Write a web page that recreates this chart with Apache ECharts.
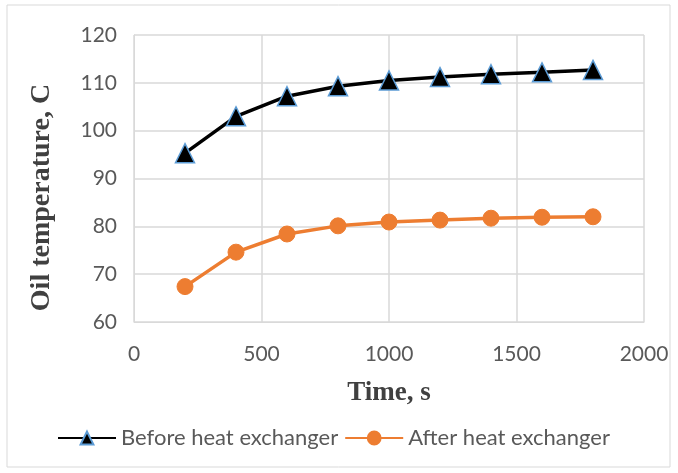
<!DOCTYPE html>
<html><head><meta charset="utf-8">
<script src="https://cdn.jsdelivr.net/npm/echarts@6/dist/echarts.min.js"></script>
<style>html,body{margin:0;padding:0;background:#fff}#c{width:678px;height:473px}</style>
</head><body><div id="c"></div>
<script>
var times = [200, 400, 600, 800, 1000, 1200, 1400, 1600, 1800];
var beforeHX = [95.3, 103, 107.2, 109.3, 110.5, 111.2, 111.8, 112.2, 112.7];
var afterHX = [67.4, 74.6, 78.4, 80.1, 80.9, 81.3, 81.7, 81.9, 82.0];
var chart = echarts.init(document.getElementById('c'));
function pairs(a){return times.map(function(t,i){return [t,a[i]];});}
chart.setOption({
  animation:false,
  graphic:[{type:'rect',shape:{x:7,y:5,width:663,height:462},style:{fill:'none',stroke:'#d9d9d9',lineWidth:1}}],
  grid:{left:134,right:34,top:35,bottom:151},
  xAxis:{type:'value',min:0,max:2000,interval:500,
    name:'Time, s',nameLocation:'middle',nameGap:58,
    nameTextStyle:{fontFamily:'Liberation Serif',fontWeight:'bold',fontSize:27,color:'#404040'},
    axisLine:{show:true,lineStyle:{color:'#d9d9d9',width:1}},axisTick:{show:false},
    axisLabel:{fontFamily:'Lato',fontSize:21,color:'#595959',margin:22,formatter:function(v){return String(v);}},
    splitLine:{show:true,lineStyle:{color:'#d9d9d9',width:1.5}}},
  yAxis:{type:'value',min:60,max:120,interval:10,
    name:'Oil temperature, C',nameLocation:'middle',nameGap:78,
    nameTextStyle:{fontFamily:'Liberation Serif',fontWeight:'bold',fontSize:28,color:'#404040',padding:[0,38,0,0]},
    axisLine:{show:true,lineStyle:{color:'#d9d9d9',width:1}},axisTick:{show:false},
    axisLabel:{fontFamily:'Lato',fontSize:21,color:'#595959',margin:17},
    splitLine:{show:true,lineStyle:{color:'#d9d9d9',width:1.5}}},
  legend:{bottom:19,left:52,itemWidth:58,itemHeight:16,itemGap:6,
    textStyle:{fontFamily:'Lato',fontSize:22,color:'#595959'},
    data:['Before heat exchanger','After heat exchanger']},
  series:[
    {name:'Before heat exchanger',type:'line',data:pairs(beforeHX),symbol:'triangle',symbolSize:19,
      lineStyle:{color:'#000',width:3.5},itemStyle:{color:'#000',borderColor:'#5B9BD5',borderWidth:1.5}},
    {name:'After heat exchanger',type:'line',data:pairs(afterHX),symbol:'circle',symbolSize:16,
      lineStyle:{color:'#ED7D31',width:3.5},itemStyle:{color:'#ED7D31',borderColor:'#ED7D31',borderWidth:1}}
  ]
});
</script></body></html>
